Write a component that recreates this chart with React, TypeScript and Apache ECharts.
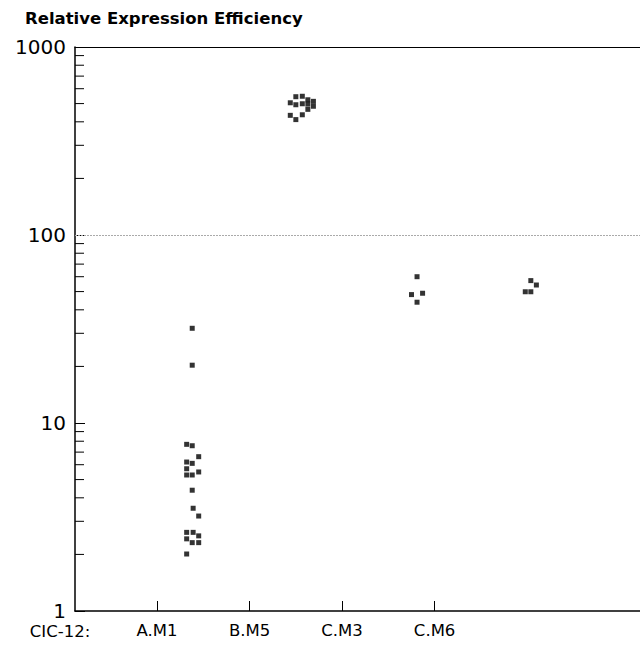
import React, { useEffect, useRef } from "react";
import * as echarts from "echarts";

const categories = ["A.M1", "B.M5", "C.M3", "C.M6"];
const categoryTicks = [1, 2, 3, 4];
const prefixLabel = "CIC-12:";
const titleText = "Relative Expression Efficiency";
const minorTickValues = [2, 3, 4, 5, 6, 7, 8, 9, 20, 30, 40, 50, 60, 70, 80, 90, 200, 300, 400, 500, 600, 700, 800, 900];
const gridValue = 100;

const pointsAM1 = [
  [1.38, 31.9], [1.38, 20.3], [1.32, 7.7], [1.38, 7.57], [1.45, 6.62], [1.32, 6.2], [1.38, 6.1],
  [1.32, 5.71], [1.45, 5.49], [1.32, 5.29], [1.38, 5.29], [1.38, 4.39], [1.39, 3.52], [1.45, 3.2],
  [1.32, 2.62], [1.39, 2.62], [1.45, 2.51], [1.32, 2.42], [1.38, 2.31], [1.45, 2.31], [1.32, 2.01],
];
const pointsBM5 = [
  [2.44, 505], [2.5, 544], [2.57, 547], [2.5, 493], [2.57, 499], [2.63, 524], [2.63, 497],
  [2.63, 466], [2.69, 514], [2.69, 484], [2.44, 433], [2.5, 411], [2.57, 436],
];
const pointsCM3 = [[3.81, 60.0], [3.75, 48.2], [3.87, 49.0], [3.81, 43.9]];
const pointsCM6 = [[5.04, 57.2], [5.1, 54.2], [4.98, 49.9], [5.04, 49.9]];

const X_MIN = 0.113;
const X_MAX = 6.22;
const FONT = "'DejaVu Sans', 'Liberation Sans', sans-serif";

export default function App() {
  const ref = useRef<HTMLDivElement>(null);
  useEffect(() => {
    if (!ref.current) return;
    const chart = echarts.init(ref.current, undefined, { renderer: "svg" });
    const scatterBase = {
      type: "scatter",
      symbol: "rect",
      symbolSize: 5,
      itemStyle: { color: "#000" },
      xAxisIndex: 0,
      yAxisIndex: 0,
    };
    chart.setOption({
      animation: false,
      backgroundColor: "#fff",
      grid: { left: 75, top: 47, right: 0, bottom: 36 },
      xAxis: [
        {
          type: "value",
          min: X_MIN,
          max: X_MAX,
          position: "bottom",
          splitLine: { show: false },
          axisLine: { show: true, onZero: false, lineStyle: { color: "#000", width: 1.5 } },
          axisTick: {
            show: true,
            inside: true,
            length: 10,
            customValues: categoryTicks,
            lineStyle: { color: "#000", width: 1 },
          },
          axisLabel: {
            customValues: categoryTicks,
            formatter: (v: number) => categories[Math.round(v) - 1] ?? "",
            color: "#000",
            fontFamily: FONT,
            fontSize: 16.5,
            lineHeight: 17,
            margin: 11,
          },
        },
        {
          type: "value",
          min: X_MIN,
          max: X_MAX,
          position: "top",
          splitLine: { show: false },
          axisLine: { show: true, onZero: false, lineStyle: { color: "#000", width: 1.2 } },
          axisTick: { show: false },
          axisLabel: { show: false },
        },
      ],
      yAxis: {
        type: "log",
        logBase: 10,
        min: 1,
        max: 1000,
        splitLine: { show: false },
        axisLine: { show: true, lineStyle: { color: "#000", width: 1.5 } },
        axisTick: { show: true, inside: true, length: 10, lineStyle: { color: "#000", width: 1 } },
        axisLabel: {
          color: "#000",
          fontFamily: FONT,
          fontSize: 20,
          lineHeight: 19,
          margin: 9,
          formatter: (v: number) => String(Math.round(v)),
        },
      },
      graphic: [
        {
          type: "text",
          left: 25,
          top: 10,
          style: { text: titleText, fontFamily: FONT, fontSize: 16.5, fontWeight: "bold", fill: "#000" },
        },
        {
          type: "text",
          x: 60,
          y: 631,
          style: {
            text: prefixLabel,
            fontFamily: FONT,
            fontSize: 16.5,
            lineHeight: 17,
            fill: "#000",
            align: "center",
            verticalAlign: "middle",
          },
        },
      ],
      series: [
        {
          type: "custom",
          xAxisIndex: 0,
          yAxisIndex: 0,
          silent: true,
          clip: false,
          data: minorTickValues.map((v) => [X_MIN, v]),
          renderItem: (params: any, api: any) => {
            const p = api.coord([api.value(0), api.value(1)]);
            return {
              type: "line",
              shape: { x1: p[0], y1: p[1], x2: p[0] + 9, y2: p[1] },
              style: { stroke: "#000", lineWidth: 1 },
            };
          },
        },
        {
          ...scatterBase,
          name: categories[0],
          data: pointsAM1,
          markLine: {
            silent: true,
            symbol: "none",
            label: { show: false },
            lineStyle: { color: "#aaa", width: 1, type: [2, 1] },
            data: [{ yAxis: gridValue }],
          },
        },
        { ...scatterBase, name: categories[1], data: pointsBM5 },
        { ...scatterBase, name: categories[2], data: pointsCM3 },
        { ...scatterBase, name: categories[3], data: pointsCM6 },
      ],
    });
    return () => chart.dispose();
  }, []);
  return <div ref={ref} style={{ position: "fixed", left: 0, top: 0, width: 640, height: 647 }} />;
}
